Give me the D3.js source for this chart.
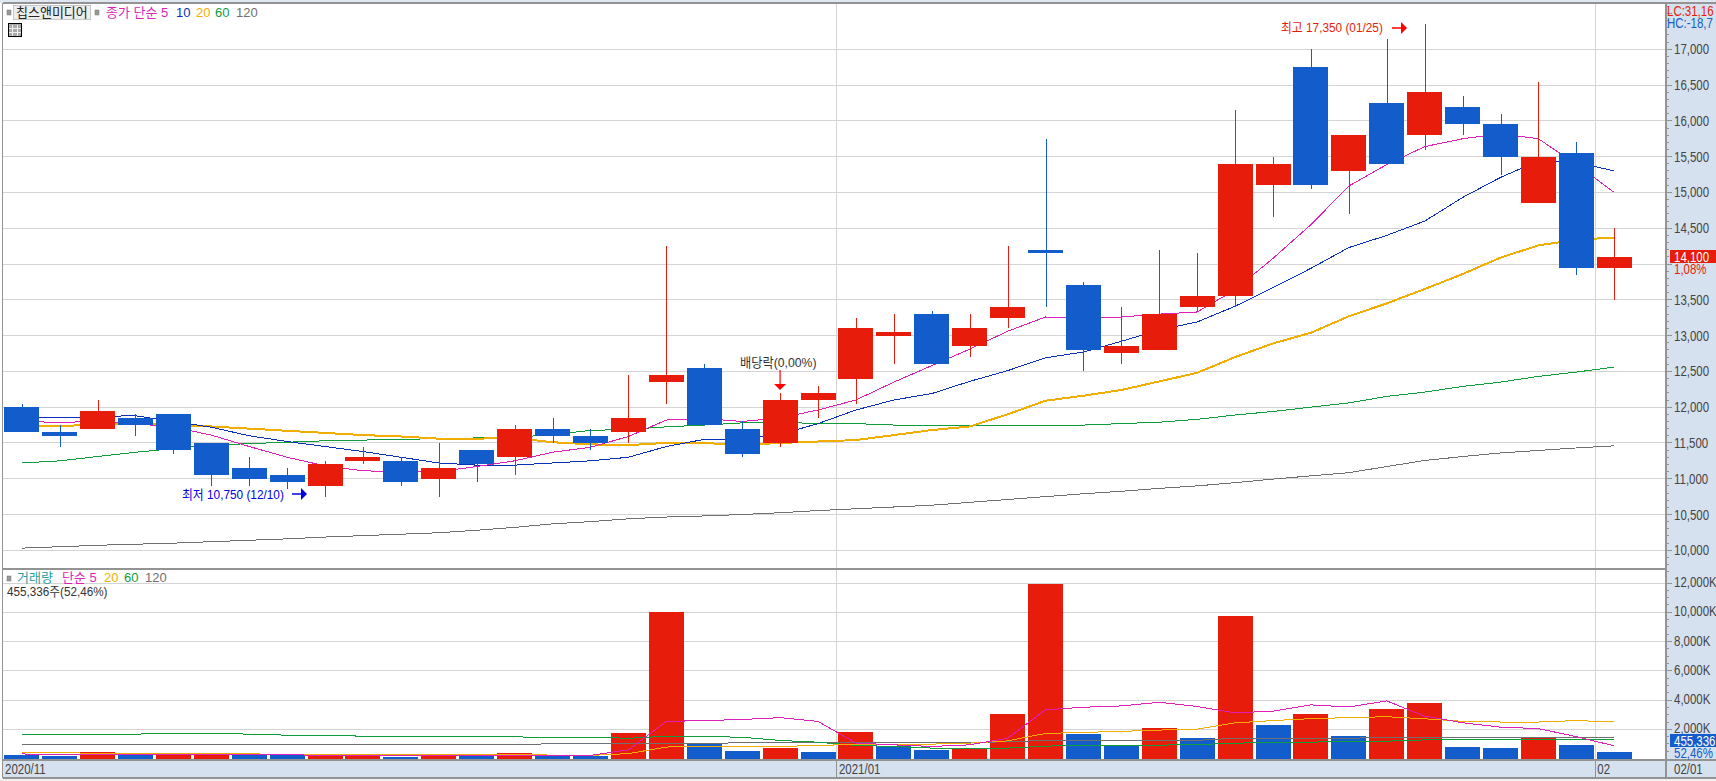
<!DOCTYPE html>
<html lang="ko"><head><meta charset="utf-8">
<script src="https://cdn.jsdelivr.net/npm/d3@7/dist/d3.min.js"></script>
<style>
html,body{margin:0;padding:0;background:#fff;overflow:hidden}
svg{display:block}
text{font-family:"Liberation Sans","Noto Sans CJK KR",sans-serif;font-size:14px}
.ko{font-family:"Liberation Sans","Noto Sans CJK KR",sans-serif;font-size:13px}
</style></head><body><svg id="c" width="1716" height="781"></svg>
<script>
const dates=["11/30","12/01","12/02","12/03","12/04","12/07","12/08","12/09","12/10","12/11","12/14","12/15","12/16","12/17","12/18","12/21","12/22","12/23","12/24","12/28","12/29","12/30","01/04","01/05","01/06","01/07","01/08","01/11","01/12","01/13","01/14","01/15","01/18","01/19","01/20","01/21","01/22","01/25","01/26","01/27","01/28","01/29","02/01"];
const open=[12000,11650,11700,11850,11900,11500,11150,11050,10900,11250,11250,11000,11400,11300,11700,11600,11650,12350,12550,11700,11500,12100,12400,13000,13300,12850,13250,14200,13700,12750,12800,13400,13550,15100,16750,15300,16250,15800,16200,15950,14850,15550,13950];
const close=[11650,11600,11950,11750,11400,11050,11000,10950,11200,11300,10950,11150,11200,11700,11600,11500,11850,12450,11750,11350,12100,12200,13100,13050,12600,13100,13400,14150,12800,12850,13300,13550,15400,15400,15100,15800,15400,16400,15950,15500,15500,13950,14100];
const high=[12050,11750,12100,11900,11900,11500,11300,11150,11250,11450,11300,11500,11400,11750,11850,11700,12450,14250,12600,11800,12200,12300,13250,13300,13350,13300,14250,15750,13750,13400,14200,14150,16150,15500,17000,15800,17150,17350,16350,16100,16550,15700,14500];
const low=[11650,11450,11700,11600,11350,10900,10900,10850,10750,11200,10900,10750,10950,11050,11500,11400,11500,12050,11750,11300,11450,11850,12050,12600,12600,12700,13100,13400,12500,12600,12800,13350,13400,14650,15050,14700,15400,15600,15800,15250,14850,13850,13500];
const ma5=[11810,11780,11810,11770,11720,11610,11450,11300,11180,11110,11100,11100,11170,11250,11370,11440,11590,11820,11840,11800,11850,11960,12100,12350,12580,12810,13060,13260,13240,13260,13300,13330,13640,14080,14550,15090,15390,15640,15750,15820,15750,15390,15000];
const ma10=[11850,11850,11870,11880,11800,11720,11600,11520,11450,11380,11300,11220,11190,11190,11220,11250,11300,11450,11550,11550,11620,11770,11960,12100,12190,12360,12510,12690,12770,12920,13080,13190,13410,13670,13940,14230,14400,14600,14930,15210,15440,15420,15300];
const ma20=[11730,11740,11750,11780,11740,11730,11700,11670,11640,11610,11590,11560,11560,11570,11510,11480,11470,11500,11500,11470,11500,11520,11540,11610,11680,11730,11900,12090,12160,12240,12360,12480,12700,12890,13040,13270,13450,13650,13860,14090,14260,14340,14370];
const ma60=[11220,11250,11310,11370,11420,11470,11490,11510,11530,11540,11550,11560,11570,11580,11615,11675,11690,11725,11750,11780,11790,11770,11770,11750,11745,11740,11740,11740,11750,11770,11790,11830,11890,11940,12000,12060,12150,12210,12290,12350,12430,12490,12560];
const ma120=[10030,10050,10070,10085,10100,10120,10140,10160,10185,10205,10225,10245,10280,10320,10370,10400,10440,10465,10480,10500,10525,10555,10580,10605,10630,10670,10710,10750,10790,10825,10865,10900,10945,10995,11040,11085,11170,11255,11310,11360,11395,11430,11460];
const volume=[250,180,450,230,240,270,230,225,230,270,140,200,170,400,200,170,1750,10000,1010,540,740,470,1820,880,610,670,3020,11900,1680,920,2080,1410,9750,2280,3020,1540,3420,3800,800,730,1430,930,455];
const vma5=[320,250,300,280,270,270,260,250,240,230,240,230,230,240,220,220,600,2540,2600,2670,2800,2540,1060,940,830,940,1390,3330,3510,3600,3850,3560,3130,3240,3670,3530,3940,2900,2450,2150,2050,1500,870];
const vma20=[430,430,340,340,340,320,320,300,300,300,290,290,280,280,240,220,340,790,830,830,830,900,970,990,990,1060,1210,1720,1790,1860,1950,2010,2440,2600,2730,2800,2860,2720,2550,2500,2500,2600,2500];
const vma60=[1670,1670,1670,1670,1740,1740,1670,1600,1600,1530,1530,1500,1500,1480,1460,1460,1390,1530,1510,1460,1240,1120,900,830,720,720,720,850,920,920,920,960,1050,1120,1120,1190,1190,1280,1280,1300,1300,1300,1300];
const vma120=[980,980,980,980,980,980,980,980,980,980,980,980,980,990,1000,1010,1010,1010,1010,1100,1100,1100,1100,1100,1100,1120,1140,1250,1250,1250,1250,1250,1390,1390,1390,1390,1450,1450,1450,1450,1450,1450,1450];
const priceTicks=[10000,10500,11000,11500,12000,12500,13000,13500,14000,14500,15000,15500,16000,16500,17000];
const hiddenPriceLabels=[14000];
const volTicks=[2000,4000,6000,8000,10000,12000];
const xLabels=[["2020/11","11/30"],["2021/01","01/04"],["02","02/01"]];
const legendTop=[["종가 단순 5","#e01fb8",106],["10","#0a2fb8",176],["20","#f2ae00",196],["60","#0e9e3c",215],["120","#707070",236]];
const legendVol=[["단순 5","#e01fb8",62],["20","#f2ae00",104],["60","#0e9e3c",124],["120","#707070",145]];

const RED="#e81c0a",BLUE="#125ccb",GRID="#d4d4d4",BAND="#d6e1ef",AX="#939393",TXT="#444";
const W=1716,H=781,R=1666,L=2.5;
const svg=d3.select("#c");
const x=d3.scalePoint().domain(dates).range([21.7,1614.3]);
const step=x.step(),bw=35;
const y=d3.scaleLinear().domain([10000,17000]).range([550.3,49.3]);
const v=d3.scaleLinear().domain([0,12000]).range([758.6,583]);

// horizontally condensed text, standing in for the narrow bitmap face of the original
function label(px,py,str,fill,sx,cls){
  return svg.append("text").attr("class",cls||null).attr("transform",`translate(${px},${py}) scale(${sx},1)`).attr("fill",fill).text(str);
}

// chrome
svg.append("rect").attr("x",0).attr("y",0).attr("width",W).attr("height",3).attr("fill","#dfe7f2");
svg.append("rect").attr("x",R).attr("y",3).attr("width",W-R).attr("height",775).attr("fill",BAND);
svg.append("rect").attr("x",L).attr("y",760).attr("width",W-L).attr("height",18).attr("fill",BAND);
svg.append("rect").attr("x",0).attr("y",778).attr("width",W).attr("height",3).attr("fill","#f0f0f0");

const gc=svg.append("g").attr("shape-rendering","crispEdges");
// grids
gc.selectAll(".gp").data(priceTicks).join("line").attr("x1",L).attr("x2",R).attr("y1",d=>y(d)).attr("y2",d=>y(d)).attr("stroke",GRID).attr("stroke-width",1);
gc.selectAll(".gv").data(volTicks).join("line").attr("x1",L).attr("x2",R).attr("y1",d=>v(d)).attr("y2",d=>v(d)).attr("stroke",GRID).attr("stroke-width",1);
const seps=xLabels.slice(1).map(d=>x(d[1])-step/2);
gc.selectAll(".vg").data(seps).join("line").attr("x1",d=>d).attr("x2",d=>d).attr("y1",3).attr("y2",760).attr("stroke",GRID);

const lineOf=(ys,arr)=>d3.line().x((d,i)=>x(dates[i])).y(d=>ys(d))(arr);
function draw(ys,arr,col,w){gc.append("path").attr("d",lineOf(ys,arr)).attr("fill","none").attr("stroke",col).attr("stroke-width",w);}
// price averages beneath candles
draw(y,ma120,"#707070",1);draw(y,ma60,"#0e9e3c",1);draw(y,ma20,"#f2ae00",2);draw(y,ma10,"#0a2fb8",1);draw(y,ma5,"#e01fb8",1);

// candles
dates.forEach((d,i)=>{
  const up=close[i]>=open[i],col=up?RED:BLUE,cx=Math.round(x(d))+.5;
  gc.append("line").attr("x1",cx).attr("x2",cx).attr("y1",y(high[i])).attr("y2",y(low[i])).attr("stroke",col).attr("stroke-width",1);
  const t=y(Math.max(open[i],close[i])),b=y(Math.min(open[i],close[i]));
  gc.append("rect").attr("x",x(d)-bw/2).attr("y",t).attr("width",bw).attr("height",b-t).attr("fill",col);
});
// volume: red when the day's volume rose against the previous day
dates.forEach((d,i)=>{
  const up=i>0&&volume[i]>volume[i-1];
  gc.append("rect").attr("x",x(d)-bw/2).attr("y",v(volume[i])).attr("width",bw).attr("height",v(0)-v(volume[i])).attr("fill",up?RED:BLUE);
});
draw(v,vma120,"#707070",1);draw(v,vma60,"#0e9e3c",1);draw(v,vma20,"#f2ae00",1);draw(v,vma5,"#e01fb8",1);

// frame lines
const frame=[[L,3,W,3],[L,3,L,778],[L,568.5,R,568.5],[L,760,W,760],[L,778,W,778],[R,3,R,778]];
frame.forEach((f,i)=>gc.append("line").attr("x1",f[0]).attr("y1",f[1]).attr("x2",f[2]).attr("y2",f[3]).attr("stroke",AX).attr("stroke-width",i==5||i==3||i==2?2:1.5));
seps.forEach(s=>gc.append("line").attr("x1",s).attr("x2",s).attr("y1",760).attr("y2",778).attr("stroke",AX));

// right axes with minor ticks
const ag=svg.append("g").attr("shape-rendering","crispEdges");
d3.range(9700,17700,100).forEach(t=>{const maj=t%500===0;ag.append("line").attr("x1",R).attr("x2",R+(maj?6:3)).attr("y1",y(t)).attr("y2",y(t)).attr("stroke",AX);});
d3.range(500,12500,500).forEach(t=>{const maj=t%2000===0;ag.append("line").attr("x1",R).attr("x2",R+(maj?6:3)).attr("y1",v(t)).attr("y2",v(t)).attr("stroke",AX);});
const fmt=d3.format(",");
const SX=.82;
priceTicks.filter(t=>!hiddenPriceLabels.includes(t)).forEach(t=>label(1674,y(t)+5,fmt(t),TXT,SX));
volTicks.forEach(t=>label(1674,v(t)+4,fmt(t)+"K",TXT,SX));

// bottom labels
label(5,774,xLabels[0][0],TXT,SX);
label(seps[0]+2,774,xLabels[1][0],TXT,SX);
label(seps[1]+2,774,xLabels[2][0],TXT,SX);
label(1674,774,"02/01",TXT,SX);

// corner readouts
label(1667,16,"LC:31,16",RED,SX);
label(1667,28,"HC:-18,7",BLUE,SX);
// last value tags
label(1674,274,"1,08%",RED,SX);
svg.append("rect").attr("x",1670).attr("y",250).attr("width",46).attr("height",13).attr("fill",RED);
label(1674,261.5,"14,100","#fff",SX);
label(1674,758,"52,46%",BLUE,SX);
svg.append("rect").attr("x",1670).attr("y",734).attr("width",46).attr("height",13).attr("fill",BLUE);
label(1674,745.5,"455,336","#fff",SX);

// legends
function sq(px,py){svg.append("rect").attr("x",px).attr("y",py).attr("width",4).attr("height",5).attr("fill","#999").attr("stroke","#777").attr("stroke-width",.5);}
sq(7,10);sq(95,10);
svg.append("rect").attr("x",13.5).attr("y",5.5).attr("width",77).attr("height",14).attr("fill","#ececec").attr("stroke","#c8c8c8");
svg.append("text").attr("class","ko").attr("x",16).attr("y",17).attr("fill","#222").text("칩스앤미디어");
legendTop.forEach(l=>svg.append("text").attr("class","ko").attr("x",l[2]).attr("y",17).attr("fill",l[1]).text(l[0]));
svg.append("rect").attr("x",8.5).attr("y",23.5).attr("width",13).attr("height",13).attr("fill","#aaa").attr("stroke","#000");
[12.5,17.5].forEach(p=>svg.append("line").attr("x1",p).attr("x2",p).attr("y1",25).attr("y2",36).attr("stroke","#eee"));
[28.5,32.5].forEach(p=>svg.append("line").attr("x1",9).attr("x2",21).attr("y1",p).attr("y2",p).attr("stroke","#eee"));
sq(7,576);
svg.append("text").attr("class","ko").attr("x",17).attr("y",582).attr("fill","#2a9d9d").text("거래량");
legendVol.forEach(l=>svg.append("text").attr("class","ko").attr("x",l[2]).attr("y",582).attr("fill",l[1]).text(l[0]));
label(7,596,"455,336주(52,46%)","#333",.9,"ko");

// annotations
label(182,499,"최저 10,750 (12/10)","#0000e6",.91,"ko");
svg.append("line").attr("x1",292).attr("x2",302).attr("y1",494).attr("y2",494).attr("stroke","#0000e6").attr("stroke-width",1.5);
svg.append("path").attr("d","M301,488L307,494L301,500Z").attr("fill","#0000e6");
label(1281,32,"최고 17,350 (01/25)",RED,.91,"ko");
svg.append("line").attr("x1",1392).attr("x2",1402).attr("y1",28).attr("y2",28).attr("stroke","#f00").attr("stroke-width",1.5);
svg.append("path").attr("d","M1401,22L1407,28L1401,34Z").attr("fill","#f00");
label(740,367,"배당락(0,00%)","#333",.94,"ko");
svg.append("line").attr("x1",x("12/29")).attr("x2",x("12/29")).attr("y1",370).attr("y2",386).attr("stroke","#f00").attr("stroke-width",1.2);
svg.append("path").attr("d",`M${x("12/29")-6},384L${x("12/29")+6},384L${x("12/29")},390Z`).attr("fill","#f00");
</script></body></html>
